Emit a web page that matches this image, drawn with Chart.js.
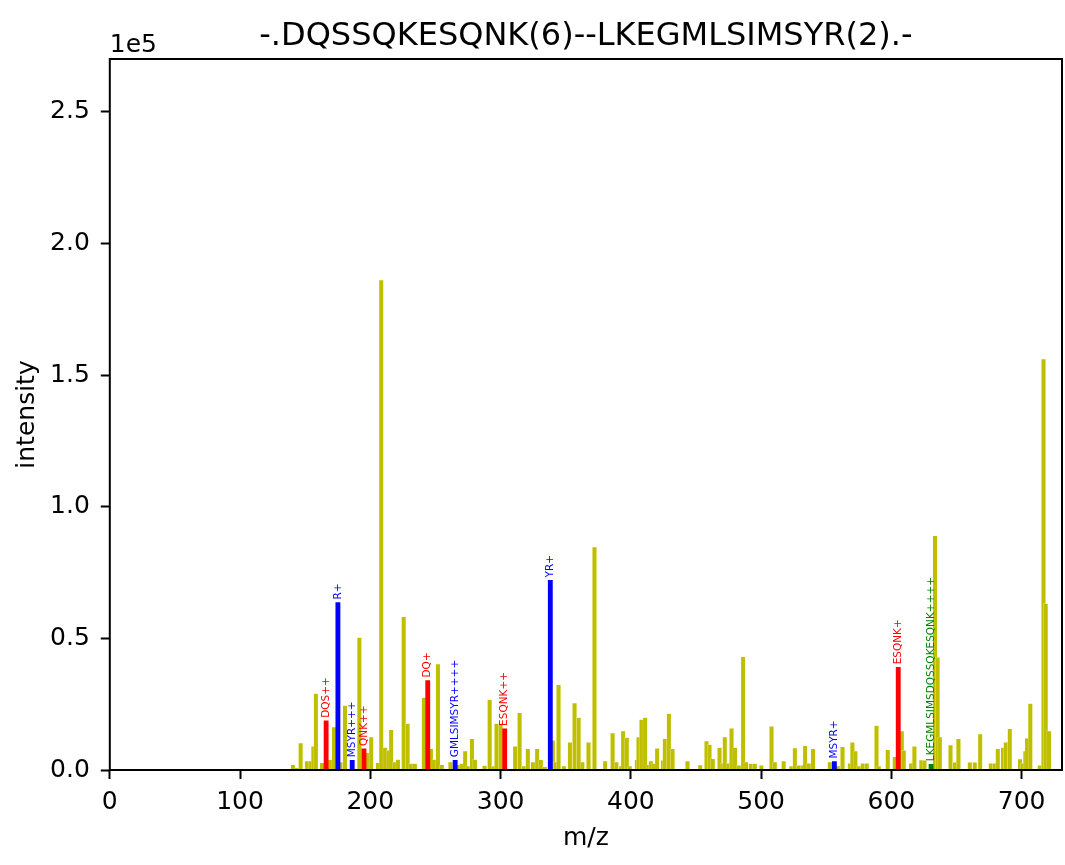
<!DOCTYPE html>
<html>
<head>
<meta charset="utf-8">
<script src="https://cdn.jsdelivr.net/npm/chart.js@4.4.0/dist/chart.umd.min.js"></script>
<style>
  html, body { margin: 0; padding: 0; background: #fff; }
  canvas { display: block; }
</style>
</head>
<body>
<canvas id="spectrum" width="1065" height="865"></canvas>
<script>
// Espectro MS2 – picos
const plotTitle = '-.DQSSQKESQNK(6)--LKEGMLSIMSYR(2).-';

// picos sin anotar (m/z, intensidad)
const peakMz = [
  140.6, 143.7, 146.5, 151.3, 154.4, 156.3, 158.2, 162.9, 169.0, 172.1,
  177.1, 180.5, 191.6, 197.4, 200.7, 205.8, 208.4, 211.4, 213.9, 216.0,
  218.5, 221.2, 225.6, 228.6, 231.2, 234.2, 241.1, 246.5, 249.0, 251.9,
  254.9, 261.5, 267.6, 270.1, 272.8, 274.9, 278.0, 280.3, 287.7, 291.6,
  294.5, 296.9, 300.0, 311.2, 314.6, 317.9, 320.9, 324.8, 328.1, 330.9,
  334.0, 340.1, 342.1, 344.5, 348.6, 353.2, 356.8, 359.9, 362.8, 367.5,
  372.1, 380.3, 386.0, 388.9, 392.6, 394.1, 396.9, 399.2, 404.6, 405.9,
  408.2, 411.0, 413.4, 415.3, 417.7, 420.2, 424.6, 426.1, 429.2, 432.0,
  443.5, 453.3, 458.1, 460.4, 462.9, 468.1, 470.2, 472.1, 474.8, 477.3,
  480.0, 482.9, 486.2, 488.5, 492.1, 495.2, 500.2, 508.0, 510.5, 517.3,
  523.2, 525.9, 528.9, 532.0, 533.8, 536.6, 539.9, 552.7, 558.9, 562.5,
  568.1, 570.1, 572.4, 575.0, 578.0, 581.1, 588.6, 590.3, 597.2, 602.6,
  608.0, 609.5, 615.1, 617.7, 623.0, 625.4, 633.5, 635.5, 637.2, 645.4,
  648.7, 651.5, 660.2, 664.0, 668.2, 676.3, 679.3, 681.7, 685.7, 687.8,
  690.9, 698.8, 700.9, 702.9, 704.2, 706.7, 713.9, 716.8, 718.5, 721.0
];
const peakIntensity = [
  2000, 800, 10200, 3400, 3400, 9000, 29000, 2700, 3900, 16300,
  3000, 24500, 50300, 6500, 12500, 2700, 186000, 8500, 7500, 15300,
  3000, 4000, 58200, 17600, 2400, 2400, 27500, 8000, 4000, 40200,
  2000, 3000, 2000, 2400, 7200, 1500, 11800, 4000, 1700, 26700,
  1500, 17600, 17400, 9000, 21700, 1500, 8000, 3000, 8000, 3900,
  1200, 11300, 3000, 32300, 1500, 10500, 25400, 19900, 3000, 10500,
  84700, 3400, 14000, 3000, 1500, 14800, 12300, 1500, 3900, 12500,
  19100, 19900, 2000, 3400, 2400, 8200, 3700, 11800, 21400, 8000,
  3400, 1900, 11000, 9700, 4200, 8500, 2500, 12500, 2500, 15800,
  8500, 1800, 43000, 3000, 2400, 2400, 1800, 16600, 3000, 3400,
  1500, 8300, 1800, 1800, 9200, 2500, 8000, 3000, 1500, 8800,
  2500, 10500, 7200, 1500, 2500, 2500, 16900, 1500, 7700, 5000,
  14800, 7500, 2500, 9000, 3800, 3700, 88900, 42800, 12500, 9500,
  2900, 11800, 2900, 2900, 13600, 2500, 2500, 8000, 8500, 10500,
  15600, 4100, 2500, 7200, 12000, 25200, 1800, 156000, 63200, 14800
];

// iones anotados
const ionLabels = ['DQS++', 'R+', 'MSYR+++', 'QNK++', 'DQ+', 'GMLSIMSYR++++',
  'ESQNK++', 'YR+', 'MSYR+', 'ESQNK+', 'LKEGMLSIMSDQSSQKESQNK++++'];
const ionMz = [166.07, 175.12, 186.09, 195.11, 244.09, 265.13,
  303.15, 338.18, 556.25, 605.29, 630.5];
const ionIntensity = [18700, 63600, 3700, 8000, 34000, 3700,
  15600, 72000, 3200, 39000, 2200];
const ionChain = ['alpha', 'beta', 'beta', 'alpha', 'alpha', 'beta',
  'alpha', 'beta', 'beta', 'alpha', 'xl'];

const xTicks = [0, 100, 200, 300, 400, 500, 600, 700];
const yTicks = [0, 50000, 100000, 150000, 200000, 250000];

const chainColor = { alpha: '#ff0000', beta: '#0000ff', xl: '#008000' };
const FONT = '"DejaVu Sans", sans-serif';

function ionDataset(chain) {
  const pts = [], labels = [];
  ionMz.forEach((mz, i) => {
    if (ionChain[i] !== chain) return;
    pts.push({ x: mz, y: ionIntensity[i] });
    labels.push(ionLabels[i]);
  });
  return {
    data: pts,
    ionLabels: labels,
    backgroundColor: chainColor[chain],
    borderWidth: 0,
    barThickness: 4.2,
    grouped: false,
    order: 1
  };
}

const spectrumDecor = {
  id: 'spectrumDecor',
  afterDatasetsDraw(chart) {
    const ctx = chart.ctx;
    chart.data.datasets.forEach((ds, i) => {
      if (!ds.ionLabels) return;
      const meta = chart.getDatasetMeta(i);
      meta.data.forEach((bar, j) => {
        ctx.save();
        ctx.translate(bar.x, bar.y - 3);
        ctx.rotate(-Math.PI / 2);
        ctx.fillStyle = ds.backgroundColor;
        ctx.font = '10.5px ' + FONT;
        ctx.textAlign = 'left';
        ctx.textBaseline = 'middle';
        ctx.fillText(ds.ionLabels[j], 0, 0);
        ctx.restore();
      });
    });
  },
  afterDraw(chart) {
    const { ctx, chartArea: a } = chart;
    ctx.save();
    // marco
    ctx.strokeStyle = '#000';
    ctx.lineWidth = 2;
    ctx.strokeRect(a.left, a.top, a.right - a.left, a.bottom - a.top);
    // título
    ctx.fillStyle = '#000';
    ctx.font = '32px ' + FONT;
    ctx.textAlign = 'center';
    ctx.textBaseline = 'alphabetic';
    ctx.fillText(plotTitle, (a.left + a.right) / 2, 45);
    // factor de escala
    ctx.font = '25px ' + FONT;
    ctx.textAlign = 'left';
    ctx.fillText('1e5', a.left, 52);
    ctx.restore();
  }
};

Chart.defaults.font.family = FONT;
Chart.defaults.color = '#000';

new Chart(document.getElementById('spectrum'), {
  type: 'bar',
  data: {
    datasets: [
      ionDataset('alpha'),
      ionDataset('beta'),
      ionDataset('xl'),
      {
        data: peakMz.map((mz, i) => ({ x: mz, y: peakIntensity[i] })),
        backgroundColor: '#bfbf00',
        borderColor: 'rgba(255,255,220,0.6)',
        borderWidth: { left: 0.5, right: 0.5, top: 0.5, bottom: 0 },
        borderSkipped: false,
        barThickness: 4.4,
        grouped: false,
        order: 3
      }
    ]
  },
  options: {
    responsive: false,
    animation: false,
    devicePixelRatio: 1,
    layout: { padding: { top: 59, right: 3, left: 0, bottom: 0 } },
    plugins: { legend: { display: false }, tooltip: { enabled: false }, title: { display: false } },
    scales: {
      x: {
        type: 'linear',
        min: 0,
        max: 731,
        offset: false,
        afterBuildTicks: s => { s.ticks = xTicks.map(v => ({ value: v })); },
        afterFit: s => { s.height = 95; },
        grid: { offset: false, drawOnChartArea: false, drawTicks: true, tickLength: 9, tickWidth: 2, tickColor: '#000' },
        border: { display: false },
        ticks: { font: { size: 25 }, padding: 8, maxRotation: 0, callback: v => String(v) },
        title: { display: true, text: 'm/z', font: { size: 25 }, padding: { top: 0, bottom: 12 } }
      },
      y: {
        min: 0,
        max: 270000,
        afterBuildTicks: s => { s.ticks = yTicks.map(v => ({ value: v })); },
        afterFit: s => { s.width = 109.8; },
        grid: { offset: false, drawOnChartArea: false, drawTicks: true, tickLength: 9, tickWidth: 2, tickColor: '#000' },
        border: { display: false },
        ticks: { font: { size: 25 }, padding: 11, callback: v => (v / 1e5).toFixed(1) },
        title: { display: true, text: 'intensity', font: { size: 25 }, padding: { top: 12, bottom: 0 } }
      }
    }
  },
  plugins: [spectrumDecor]
});
</script>
</body>
</html>
